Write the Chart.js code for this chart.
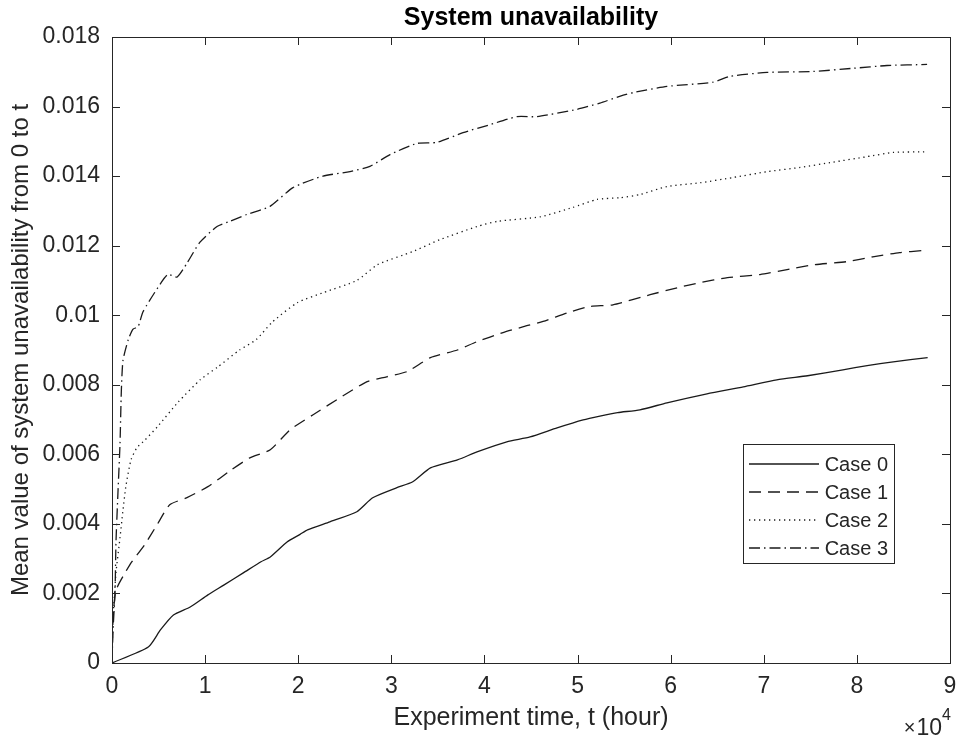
<!DOCTYPE html>
<html>
<head>
<meta charset="utf-8">
<script src="https://cdn.jsdelivr.net/npm/chart.js@4.4.1/dist/chart.umd.min.js"></script>
<style>
  html, body { margin: 0; padding: 0; background: #fff; }
  canvas { display: block; }
</style>
</head>
<body>
<canvas id="chart" width="961" height="740"></canvas>
<script>
// values (time in hours, mean unavailability)
const case0T = [0, 3900, 5200, 6600, 8400, 10300, 12000, 14100, 16000, 17000, 18800, 20200, 21000, 23400, 26300, 28000, 30600, 32300, 34200, 37100, 39200, 42400, 44900, 47800, 50600, 52400, 54300, 56700, 59600, 63900, 67800, 71400, 74700, 78500, 81100, 83900, 87600];
const case0U = [0, 0.00046, 0.00095, 0.00138, 0.00161, 0.00196, 0.00224, 0.00259, 0.00291, 0.00305, 0.00348, 0.00370, 0.00383, 0.00406, 0.00435, 0.00475, 0.00504, 0.00521, 0.00561, 0.00584, 0.00607, 0.00636, 0.00650, 0.00676, 0.00699, 0.00710, 0.00720, 0.00728, 0.00748, 0.00774, 0.00794, 0.00814, 0.00826, 0.00843, 0.00855, 0.00866, 0.00878];

const case1T = [0, 100, 300, 600, 1200, 2100, 3500, 4900, 6200, 8000, 10300, 12800, 14800, 17000, 19100, 21600, 24500, 27400, 29500, 31700, 34200, 37100, 39200, 42000, 44200, 46300, 48900, 51300, 53800, 57800, 60700, 63200, 66100, 69600, 72500, 75300, 78900, 81700, 84600, 87000, 87600];
const case1U = [0, 0.0012, 0.0019, 0.0022, 0.0025, 0.0029, 0.0034, 0.0040, 0.00455, 0.00475, 0.00507, 0.00555, 0.00590, 0.00613, 0.00670, 0.00714, 0.00763, 0.00809, 0.00823, 0.00838, 0.00878, 0.00900, 0.00924, 0.00950, 0.00967, 0.00982, 0.01007, 0.01025, 0.01030, 0.01059, 0.01079, 0.01094, 0.01108, 0.01117, 0.01131, 0.01145, 0.01154, 0.01168, 0.01180, 0.01186, 0.01188];

const case2T = [0, 100, 430, 860, 1180, 1500, 2050, 2700, 3500, 4900, 7100, 9500, 11300, 13700, 15500, 17200, 19900, 22700, 26300, 28500, 32300, 35200, 39200, 41400, 46000, 49500, 52100, 54600, 56700, 59600, 63200, 66700, 70400, 73900, 77400, 81100, 83900, 87600];
const case2U = [0, 0.0012, 0.0026, 0.0036, 0.0044, 0.0051, 0.00585, 0.0062, 0.0064, 0.0068, 0.0075, 0.00815, 0.0085, 0.0090, 0.0093, 0.0098, 0.01036, 0.01065, 0.01100, 0.01145, 0.01183, 0.01217, 0.01255, 0.01270, 0.01283, 0.01310, 0.01333, 0.01338, 0.01347, 0.01370, 0.01381, 0.01396, 0.01413, 0.01425, 0.01440, 0.01456, 0.01468, 0.01470];

const case3T = [0, 100, 320, 430, 640, 860, 1000, 1180, 1750, 2260, 2800, 3330, 4940, 6000, 7000, 8060, 9450, 11280, 12670, 14500, 16970, 19440, 22660, 25560, 27700, 29860, 32760, 34900, 37700, 40600, 43500, 45650, 49950, 52400, 54600, 55960, 59600, 64550, 66380, 70350, 75300, 79600, 83240, 87540];
const case3U = [0, 0.0009, 0.0020, 0.0035, 0.0049, 0.0063, 0.0078, 0.0087, 0.0093, 0.0096, 0.00967, 0.0101, 0.0108, 0.01117, 0.0111, 0.0115, 0.0121, 0.01255, 0.0127, 0.0129, 0.01313, 0.01367, 0.0140, 0.01413, 0.01428, 0.01462, 0.01494, 0.01497, 0.01525, 0.01548, 0.01571, 0.01571, 0.01592, 0.0161, 0.0163, 0.0164, 0.01658, 0.0167, 0.01687, 0.01698, 0.01701, 0.0171, 0.01718, 0.01721];

const seriesNames = ['Case 0', 'Case 1', 'Case 2', 'Case 3'];
const xTickValues = [0, 10000, 20000, 30000, 40000, 50000, 60000, 70000, 80000, 90000];
const yTickValues = [0, 0.002, 0.004, 0.006, 0.008, 0.010, 0.012, 0.014, 0.016, 0.018];

const FONT = '"Liberation Sans", Arial, Helvetica, sans-serif';
const AXIS = '#262626';
const LINE = '#1a1a1a';
const dashes = [[], [12, 7], [1.3, 3.7], [11, 4, 1.5, 4]];

const toPoints = (ts, us) => ts.map((t, i) => ({ x: t, y: us[i] }));
const allSeries = [toPoints(case0T, case0U), toPoints(case1T, case1U), toPoints(case2T, case2U), toPoints(case3T, case3U)];

// box, inward ticks, title, exponent and legend, matlab style
const matlabFrame = {
    id: 'matlabFrame',
    afterDraw(chart) {
        const { ctx, chartArea: a, scales } = chart;
        ctx.save();
        ctx.strokeStyle = AXIS;
        ctx.lineWidth = 1;
        ctx.setLineDash([]);
        ctx.strokeRect(a.left + 0.5, a.top + 0.5, a.right - a.left, a.bottom - a.top);

        const tick = 8;
        ctx.beginPath();
        xTickValues.forEach(v => {
            const x = Math.round(scales.x.getPixelForValue(v)) + 0.5;
            ctx.moveTo(x, a.bottom); ctx.lineTo(x, a.bottom - tick);
            ctx.moveTo(x, a.top); ctx.lineTo(x, a.top + tick);
        });
        yTickValues.forEach(v => {
            const y = Math.round(scales.y.getPixelForValue(v)) + 0.5;
            ctx.moveTo(a.left, y); ctx.lineTo(a.left + tick, y);
            ctx.moveTo(a.right, y); ctx.lineTo(a.right - tick, y);
        });
        ctx.stroke();

        // title
        ctx.fillStyle = '#000';
        ctx.font = 'bold 25px ' + FONT;
        ctx.textAlign = 'center';
        ctx.textBaseline = 'middle';
        ctx.fillText('System unavailability', (a.left + a.right) / 2, 18);

        // x10^4
        ctx.fillStyle = AXIS;
        ctx.textAlign = 'right';
        ctx.textBaseline = 'alphabetic';
        ctx.font = '16px ' + FONT;
        ctx.fillText('4', a.right + 1, 720);
        const w4 = ctx.measureText('4').width;
        ctx.font = '23px ' + FONT;
        ctx.fillText('10', a.right + 1 - w4, 735);
        const w10 = ctx.measureText('10').width;
        ctx.font = '20px ' + FONT;
        ctx.fillText('\u00d7', a.right - w4 - w10, 734);

        // legend
        const lx = 743, ly = 444, lw = 151, lh = 119;
        ctx.fillStyle = '#fff';
        ctx.fillRect(lx, ly, lw, lh);
        ctx.strokeStyle = AXIS;
        ctx.strokeRect(lx + 0.5, ly + 0.5, lw, lh);
        ctx.font = '20px ' + FONT;
        ctx.textAlign = 'right';
        ctx.textBaseline = 'middle';
        chart.data.datasets.forEach((ds, i) => {
            const y = ly + 20 + i * 28;
            ctx.strokeStyle = LINE;
            ctx.lineWidth = 1.3;
            ctx.setLineDash(ds.borderDash || []);
            ctx.beginPath();
            ctx.moveTo(lx + 6, y); ctx.lineTo(lx + 76, y);
            ctx.stroke();
            ctx.fillStyle = AXIS;
            ctx.fillText(ds.label, lx + lw - 6, y + 1);
        });
        ctx.restore();
    }
};

new Chart(document.getElementById('chart'), {
    type: 'line',
    data: {
        datasets: allSeries.map((pts, i) => ({
            label: seriesNames[i],
            data: pts,
            borderColor: LINE,
            borderWidth: 1.3,
            borderDash: dashes[i],
            pointRadius: 0,
            tension: 0.2,
            fill: false
        }))
    },
    options: {
        responsive: false,
        animation: false,
        devicePixelRatio: 1,
        layout: { padding: { left: 0, right: 11, top: 37, bottom: 0 } },
        plugins: { legend: { display: false }, title: { display: false }, tooltip: { enabled: false } },
        scales: {
            x: {
                type: 'linear', min: 0, max: 90000,
                afterFit: s => { s.height = 77; s.paddingLeft = 0; s.paddingRight = 0; },
                afterBuildTicks: s => { s.ticks = xTickValues.map(v => ({ value: v })); },
                grid: { display: false, drawTicks: false },
                border: { display: false },
                ticks: {
                    color: AXIS, padding: 10, maxRotation: 0,
                    font: { family: FONT, size: 23 },
                    callback: v => String(Math.round(v / 10000))
                },
                title: {
                    display: true, text: 'Experiment time, t (hour)', color: AXIS,
                    font: { family: FONT, size: 25 }, padding: { bottom: 7 }
                }
            },
            y: {
                min: 0, max: 0.018,
                afterFit: s => { s.width = 112; s.paddingTop = 0; s.paddingBottom = 0; },
                afterBuildTicks: s => { s.ticks = yTickValues.map(v => ({ value: v })); },
                grid: { display: false, drawTicks: false },
                border: { display: false },
                ticks: {
                    color: AXIS, padding: 12,
                    font: { family: FONT, size: 23 },
                    callback: v => String(+v.toFixed(3))
                },
                title: {
                    display: true, text: 'Mean value of system unavailability from 0 to t', color: AXIS,
                    font: { family: FONT, size: 24 }, padding: { top: 7 }
                }
            }
        }
    },
    plugins: [matlabFrame]
});
</script>
</body>
</html>
